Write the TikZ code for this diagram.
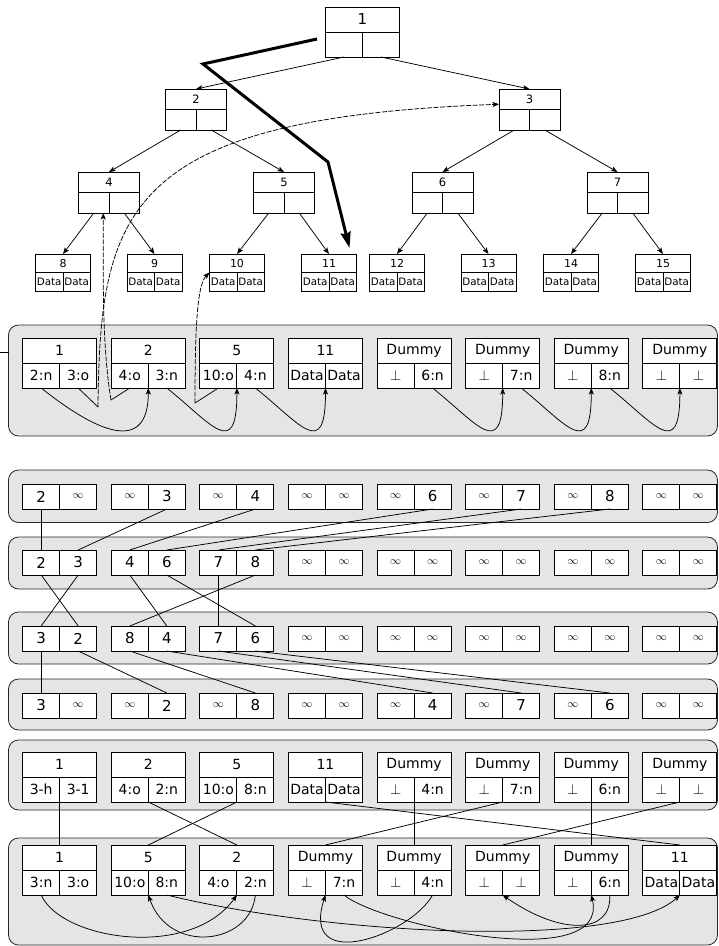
\documentclass[tikz,border=0pt]{standalone}
\usepackage{fontspec}
\setmainfont{DejaVu Sans}
\usetikzlibrary{arrows.meta}

\newcommand{\infy}{{\fontsize{11}{11}\selectfont$\infty$}}
\newcommand{\nul}{$\perp$}

% record with a header and two cells: size, name, position, header, left, right
\newcommand{\recbox}[6]{%
  \node[#1hd] (#2) at (#3) {#4};
  \node[#1cell, anchor=north west] (#2-l) at (#2.south west) {#5};
  \node[#1cell, anchor=north east] (#2-r) at (#2.south east) {#6};
}
% two cells side by side: name, position, left, right
\newcommand{\pairbox}[4]{%
  \node[pcell] (#1-l) at (#2) {#3};
  \node[pcell] (#1-r) at (#1-l.north east) {#4};
}

\tikzset{
  box/.style={draw, fill=white, inner sep=0pt, outer sep=0pt, line width=0.9pt},
  roothd/.style={box, anchor=north west, minimum width=74pt, minimum height=25pt, font=\fontsize{15}{15}\selectfont},
  rootcell/.style={box, minimum width=37pt, minimum height=25pt},
  midhd/.style={box, anchor=north west, minimum width=61pt, minimum height=20.5pt, font=\fontsize{11.5}{11.5}\selectfont},
  midcell/.style={box, minimum width=30.5pt, minimum height=20.5pt},
  leafhd/.style={box, anchor=north west, minimum width=55pt, minimum height=18.5pt, font=\fontsize{11}{11}\selectfont},
  leafcell/.style={box, minimum width=27.5pt, minimum height=19pt, font=\fontsize{10.3}{10.3}\selectfont},
  bighd/.style={box, anchor=north west, minimum width=74pt, minimum height=25pt, font=\fontsize{14}{14}\selectfont},
  bigcell/.style={box, minimum width=37pt, minimum height=25pt, font=\fontsize{14}{14}\selectfont},
  pcell/.style={box, anchor=north west, minimum width=37pt, minimum height=25pt, font=\fontsize{15}{15}\selectfont},
  panel/.style={draw=black!85, fill=gray!20, rounded corners=10pt, line width=0.8pt},
  ptr/.style={dash pattern=on 5pt off 1.5pt},
}

\begin{document}
\begin{tikzpicture}[x=1pt,y=1pt,>={Stealth[length=6.5pt,width=5pt,inset=1.5pt]},line width=0.75pt]
  \useasboundingbox (0,0) rectangle (719,-946);

  % panels
  \foreach \t/\b in {325/436, 470/522.5, 537/589, 612/664, 679/730, 740/810, 838/945}
    \draw[panel] (8.5,-\t) rectangle (717.5,-\b);
  \draw (0,-352) -- (8.5,-352);

  % tree
  \recbox{root}{t1}{325.5,-7}{1}{}{}
  \recbox{mid}{t2}{165.5,-89}{2}{}{}
  \recbox{mid}{t3}{499,-89}{3}{}{}
  \recbox{mid}{t4}{78.5,-172}{4}{}{}
  \recbox{mid}{t5}{253.5,-172}{5}{}{}
  \recbox{mid}{t6}{412,-172}{6}{}{}
  \recbox{mid}{t7}{587,-172}{7}{}{}
  \foreach \n/\x in {8/35.5, 9/127, 10/209.5, 11/301.5, 12/369.5, 13/461, 14/543.5, 15/635.5}
    \recbox{leaf}{t\n}{\x,-254}{\n}{Data}{Data};

  \foreach \p/\c/\s in {1/2/l,1/3/r,2/4/l,2/5/r,3/6/l,3/7/r,4/8/l,4/9/r,5/10/l,5/11/r,6/12/l,6/13/r,7/14/l,7/15/r}
    \draw[->] (t\p-\s.south) -- (t\c.north);

  \coordinate (w0) at (317,-39);
  \coordinate (w1) at (203,-64);
  \coordinate (w2) at (328,-162);
  \coordinate (w3) at (349.5,-248);
  \draw[line width=3pt, -{Stealth[length=16pt,width=10pt,inset=2pt]}] (w0) -- (w1) -- (w2) -- (w3);

  % first list
  \foreach \h/\lv/\rv [count=\i from 0] in {1/2:n/3:o, 2/4:o/3:n, 5/10:o/4:n, 11/Data/Data, Dummy/\nul/6:n, Dummy/\nul/7:n, Dummy/\nul/8:n, Dummy/\nul/\nul}
    \recbox{big}{a\i}{22.7+88.6*\i,-338}{\h}{\lv}{\rv};
  \foreach \s/\t in {a0-l/a1, a1-r/a2, a2-r/a3, a4-r/a5, a5-r/a6, a6-r/a7}
    \draw[->] (\s.south) .. controls +(45,-36) and +(0,-73) .. (\t-l.south east);

  % old pointers
  \coordinate (k3) at (98,-407);
  \coordinate (k4) at (111,-400);
  \coordinate (k10) at (195,-403);
  \draw (a0-r.south) -- (k3);
  \draw[ptr,->] (k3) .. controls (100,-210) and (125,-118) .. ([yshift=-5pt]t3.west);
  \draw (a1-l.south) -- (k4);
  \draw[ptr,->] (k4) .. controls (103,-350) and (103,-300) .. ([xshift=9.5pt]t4-l.south);
  \draw (a2-l.south) -- (k10);
  \draw[ptr,->] (k10) .. controls (195,-330) and (197,-285) .. (t10.south west);

  % sorting rows
  \foreach \lv/\rv [count=\i from 0] in {2/\infy, \infy/3, \infy/4, \infy/\infy, \infy/6, \infy/7, \infy/8, \infy/\infy}
    \pairbox{r1c\i}{22.7+88.6*\i,-484}{\lv}{\rv};
  \foreach \lv/\rv [count=\i from 0] in {2/3, 4/6, 7/8, \infy/\infy, \infy/\infy, \infy/\infy, \infy/\infy, \infy/\infy}
    \pairbox{r2c\i}{22.7+88.6*\i,-550}{\lv}{\rv};
  \foreach \lv/\rv [count=\i from 0] in {3/2, 8/4, 7/6, \infy/\infy, \infy/\infy, \infy/\infy, \infy/\infy, \infy/\infy}
    \pairbox{r3c\i}{22.7+88.6*\i,-626}{\lv}{\rv};
  \foreach \lv/\rv [count=\i from 0] in {3/\infy, \infy/2, \infy/8, \infy/\infy, \infy/4, \infy/7, \infy/6, \infy/\infy}
    \pairbox{r4c\i}{22.7+88.6*\i,-693}{\lv}{\rv};

  \foreach \u/\v in {r1c0-l/r2c0-l, r1c1-r/r2c0-r, r1c2-r/r2c1-l, r1c4-r/r2c1-r, r1c5-r/r2c2-l, r1c6-r/r2c2-r,
                     r2c0-l/r3c0-r, r2c0-r/r3c0-l, r2c1-l/r3c1-r, r2c1-r/r3c2-r, r2c2-l/r3c2-l, r2c2-r/r3c1-l,
                     r3c0-l/r4c0-l, r3c0-r/r4c1-r, r3c1-l/r4c2-r, r3c1-r/r4c4-r, r3c2-l/r4c5-r, r3c2-r/r4c6-r}
    \draw (\u.south) -- (\v.north);

  % second list, before and after
  \foreach \h/\lv/\rv [count=\i from 0] in {1/3-h/3-1, 2/4:o/2:n, 5/10:o/8:n, 11/Data/Data, Dummy/\nul/4:n, Dummy/\nul/7:n, Dummy/\nul/6:n, Dummy/\nul/\nul}
    \recbox{big}{c\i}{22.7+88.6*\i,-752}{\h}{\lv}{\rv};
  \foreach \h/\lv/\rv [count=\i from 0] in {1/3:n/3:o, 5/10:o/8:n, 2/4:o/2:n, Dummy/\nul/7:n, Dummy/\nul/4:n, Dummy/\nul/\nul, Dummy/\nul/6:n, 11/Data/Data}
    \recbox{big}{d\i}{22.7+88.6*\i,-845}{\h}{\lv}{\rv};

  \foreach \u/\v in {c0/d0, c1/d2, c2/d1, c3/d7, c4/d4, c5/d3, c6/d6, c7/d5}
    \draw (\u-l.south east) -- (\v.north);

  \draw[->] (d0-l.south) .. controls +(20,-45) and +(-47,-65) .. (d2-l.south east);
  \draw[->] (d2-r.south) .. controls +(-5,-50) and +(21,-60) .. (d1-l.south east);
  \draw[->] (d1-r.south) .. controls +(163,-40) and +(-60,-55) .. (d7-l.south east);
  \draw[->] (d3-r.south) .. controls +(36,-30) and +(19,-80) .. (d6-l.south east);
  \draw[->] (d4-r.south) .. controls +(-22,-40) and +(-26,-80) .. (d3-l.south east);
  \draw[->] (d6-r.south) .. controls +(2,-40) and +(57,-40) .. (d5-l.south east);
\end{tikzpicture}
\end{document}
